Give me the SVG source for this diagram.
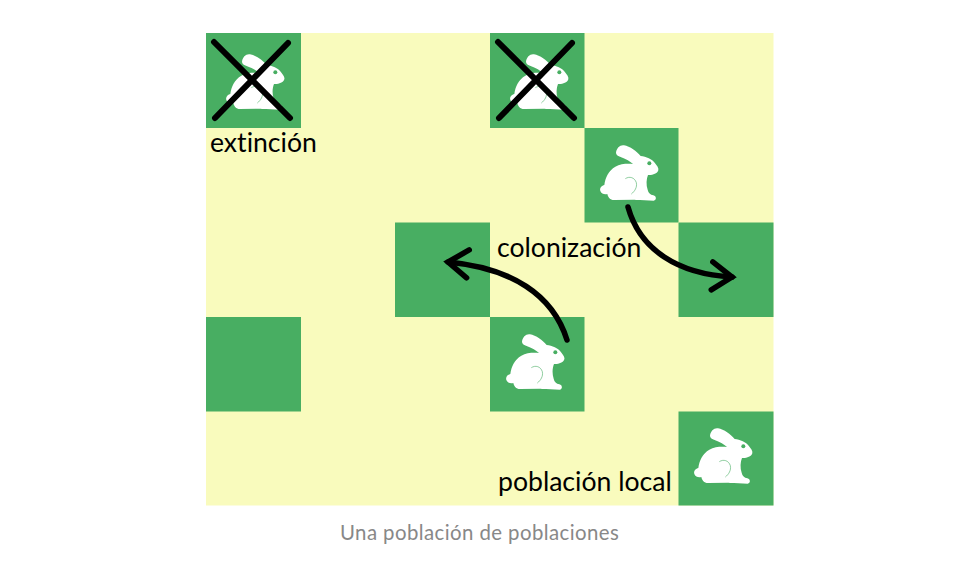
<svg xmlns="http://www.w3.org/2000/svg" width="960" height="579" viewBox="0 0 960 579">
<style>
.cell{fill:#48ae62}
.lab{font-family:Lato,"Liberation Sans",sans-serif;font-size:26.6px;fill:#000;font-variant-ligatures:none}
.cap{font-family:Lato,"Liberation Sans",sans-serif;font-size:20.4px;fill:#888;letter-spacing:.42px;font-variant-ligatures:none}
.wire{fill:none;stroke:#000;stroke-width:5.5;stroke-linecap:round}
.x{fill:none;stroke:#000;stroke-width:6;stroke-linecap:round}
</style>
<defs>
<symbol id="rabbit" viewBox="0 0 285 285" width="95" height="95" overflow="visible">
<path fill="#fff" d="M78 68C80 54 90 44 102 46C120 49 140 64 152 78C168 80 187 88 194 98C200 106 207 113 205 121C201 132 187 136 174 135C169 147 168 165 173 179C175 189 181 194 190 196C200 198 200 211 191 212L150 210C140 210 135 209 130 209L72 210C60 210 54 202 52 192C43 194 34 191 31 183C28 173 36 167 43 165C46 142 56 122 76 110C92 101 112 101 129 102C122 94 108 87 90 80C83 77 78 74 78 68Z"/>
<path fill="none" stroke="#48ae62" stroke-width="3" stroke-opacity=".6" d="M106 146C118 138 134 142 139 158C142 172 134 184 124 192"/>
<circle cx="178" cy="100" r="6" fill="#48ae62"/>
</symbol>
<marker id="head" markerUnits="userSpaceOnUse" markerWidth="40" markerHeight="40" refX="32" refY="20" orient="auto" overflow="visible">
<path d="M12 6L32 20L12 34" fill="none" stroke="#000" stroke-width="5.5" stroke-linecap="round" stroke-linejoin="miter"/>
</marker>
</defs>
<rect width="960" height="579" fill="#fff"/>
<rect id="grid" x="206" y="33" width="567.500" height="472.500" fill="#f9fbbd"/>
<g id="patch-1"><rect class="cell" x="206" y="33" width="95" height="95"/><use href="#rabbit" x="216" y="39"/></g>
<g id="patch-2"><rect class="cell" x="490" y="33" width="94.500" height="95"/><use href="#rabbit" x="500" y="39"/></g>
<g id="patch-3"><rect class="cell" x="584.500" y="128" width="94" height="94.500"/><use href="#rabbit" x="590" y="130"/></g>
<g id="patch-4"><rect class="cell" x="395" y="222.500" width="95" height="94.500"/></g>
<g id="patch-5"><rect class="cell" x="678.500" y="222.500" width="95" height="94.500"/></g>
<g id="patch-6"><rect class="cell" x="206" y="317" width="95" height="94.500"/></g>
<g id="patch-7"><rect class="cell" x="490" y="317" width="94.500" height="94.500"/><use href="#rabbit" x="496" y="319"/></g>
<g id="patch-8"><rect class="cell" x="678.500" y="411.500" width="95" height="94"/><use href="#rabbit" x="684" y="413"/></g>
<g id="connectors">
<path class="wire" marker-end="url(#head)" d="M567 340C553 295 512 268 448 262"/>
<path class="wire" marker-end="url(#head)" d="M628 207C640 250 678 274 732 277"/>
</g>
<g id="crosses">
<path class="x" d="M214 42L290 118M288 43L215 118"/>
<path class="x" d="M498 42L574 118M572 43L499 118"/>
</g>
<text class="lab" x="210" y="152">extinción</text>
<text class="lab" x="497" y="257">colonización</text>
<text class="lab" x="498" y="491">población local</text>
<text class="cap" x="340" y="540">Una población de poblaciones</text>
</svg>
